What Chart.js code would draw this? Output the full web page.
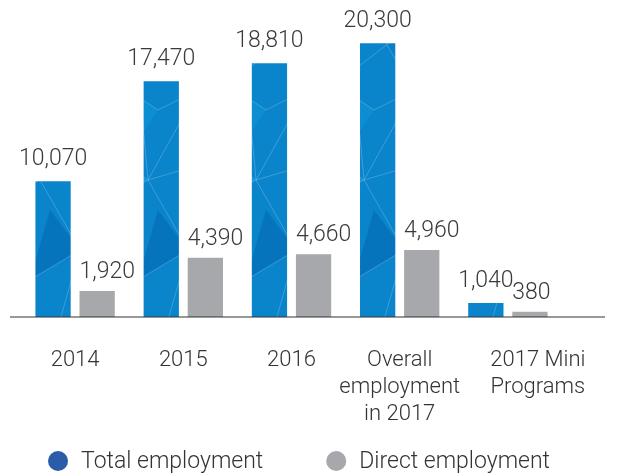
<!DOCTYPE html>
<html>
<head>
<meta charset="utf-8">
<script src="https://cdn.jsdelivr.net/npm/chart.js@4"></script>
<style>
  html, body { margin: 0; padding: 0; background: #fff; }
  #wrap { width: 619px; height: 474px; }
</style>
</head>
<body>
<div id="wrap"><canvas id="employmentChart"></canvas></div>
<script>
// data
const categories = [
  "2014",
  "2015",
  "2016",
  ["Overall", "employment", "in 2017"],
  ["2017 Mini", "Programs"],
];
const totalEmployment = [10070, 17470, 18810, 20300, 1040];
const directEmployment = [1920, 4390, 4660, 4960, 380];
const seriesNames = ["Total employment", "Direct employment"];
const legendColors = ["#2a5caa", "#a7a8ab"];

const FONT = "Roboto";
const lastLabelNudge = 30; // the last category label sits right of its bars

// faceted blue texture for the total bars
function makeTexture(ctx) {
  const c = document.createElement("canvas");
  c.width = 108;
  c.height = 320;
  const p = c.getContext("2d");
  p.fillStyle = "#0a84ca";
  p.fillRect(0, 0, c.width, c.height);
  const tris = [
    [[0, 20], [30, 70], [0, 110], "#0676bf"],
    [[10, 150], [40, 180], [0, 200], "#1498dc"],
    [[60, 40], [108, 10], [90, 90], "#0a7ec6"],
    [[50, 210], [80, 250], [30, 280], "#0674bd"],
    [[70, 120], [108, 160], [80, 180], "#1090d4"],
    [[0, 250], [20, 300], [0, 320], "#066eb8"],
    [[20, 90], [50, 110], [30, 140], "#0d8ed2"],
  ];
  tris.forEach(([a, b, d, col]) => {
    p.fillStyle = col;
    p.beginPath();
    p.moveTo(a[0], a[1]);
    p.lineTo(b[0], b[1]);
    p.lineTo(d[0], d[1]);
    p.closePath();
    p.fill();
  });
  p.strokeStyle = "rgba(190, 225, 250, 0.4)";
  p.lineWidth = 0.7;
  const lines = [
    [0, 20, 30, 70], [30, 70, 0, 110], [30, 70, 108, 10], [30, 70, 40, 180],
    [40, 180, 0, 200], [40, 180, 108, 160], [60, 40, 90, 90], [90, 90, 40, 180],
    [20, 90, 50, 110], [50, 110, 90, 90], [40, 180, 80, 250], [80, 250, 30, 280],
    [30, 280, 20, 300], [80, 250, 108, 230], [80, 250, 60, 320], [0, 250, 30, 280],
    [10, 0, 30, 70], [70, 0, 60, 40],
  ];
  lines.forEach(([x1, y1, x2, y2]) => {
    p.beginPath();
    p.moveTo(x1, y1);
    p.lineTo(x2, y2);
    p.stroke();
  });
  return ctx.createPattern(c, "repeat");
}

// value labels above bars: total centred, direct starts at the bar's left edge
const valueLabels = {
  id: "valueLabels",
  afterDatasetsDraw(chart) {
    const ctx = chart.ctx;
    ctx.save();
    ctx.font = "300 23px " + FONT;
    ctx.fillStyle = "#3a3a3a";
    ctx.textBaseline = "alphabetic";
    chart.data.datasets.forEach((ds, i) => {
      chart.getDatasetMeta(i).data.forEach((bar, j) => {
        const txt = ds.data[j].toLocaleString("en-US");
        if (i === 0) {
          ctx.textAlign = "center";
          ctx.fillText(txt, bar.x, bar.y - 16);
        } else {
          ctx.textAlign = "left";
          ctx.fillText(txt, bar.x - bar.width / 2, bar.y - 13);
        }
      });
    });
    ctx.restore();
  },
};

// long baseline + category labels under the bars
const categoryAxis = {
  id: "categoryAxis",
  afterDatasetsDraw(chart) {
    const ctx = chart.ctx;
    const xs = chart.scales.x;
    const y = chart.scales.y.getPixelForValue(0);
    ctx.save();
    ctx.strokeStyle = "#333";
    ctx.lineWidth = 1.2;
    ctx.beginPath();
    ctx.moveTo(10, y);
    ctx.lineTo(605, y);
    ctx.stroke();

    ctx.font = "300 22px " + FONT;
    ctx.fillStyle = "#333";
    ctx.textAlign = "center";
    ctx.textBaseline = "alphabetic";
    chart.data.labels.forEach((lab, i) => {
      const lines = Array.isArray(lab) ? lab : [lab];
      let x = xs.getPixelForValue(i);
      if (i === chart.data.labels.length - 1) x += lastLabelNudge;
      lines.forEach((t, k) => ctx.fillText(t, x, y + 49 + k * 27));
    });
    ctx.restore();
  },
};

// legend row at the bottom: dot + name, two items
const bottomLegend = {
  id: "bottomLegend",
  afterDraw(chart) {
    const ctx = chart.ctx;
    ctx.save();
    ctx.font = "300 23px " + FONT;
    ctx.textBaseline = "middle";
    ctx.textAlign = "left";
    const y = 461;
    const r = 10;
    const gapDotText = 13;
    const gapItems = 63;
    const widths = chart.data.datasets.map((ds) => 2 * r + gapDotText + ctx.measureText(ds.label).width);
    const total = widths.reduce((a, b) => a + b, 0) + gapItems;
    let x = 299 - total / 2;
    chart.data.datasets.forEach((ds, i) => {
      ctx.fillStyle = legendColors[i];
      ctx.beginPath();
      ctx.arc(x + r, y, r, 0, Math.PI * 2);
      ctx.fill();
      ctx.fillStyle = "#333";
      ctx.fillText(ds.label, x + 2 * r + gapDotText, y + 1);
      x += widths[i] + gapItems;
    });
    ctx.restore();
  },
};

const ctx = document.getElementById("employmentChart").getContext("2d");
const texture = makeTexture(ctx);

const employmentChart = new Chart(ctx, {
  type: "bar",
  data: {
    labels: categories,
    datasets: [
      {
        label: seriesNames[0],
        data: totalEmployment,
        backgroundColor: texture,
        borderWidth: 0,
      },
      {
        label: seriesNames[1],
        data: directEmployment,
        backgroundColor: "#a7a8ab",
        borderWidth: 0,
      },
    ],
  },
  options: {
    responsive: true,
    maintainAspectRatio: false,
    animation: false,
    layout: { padding: { top: 0, left: 21, right: 57, bottom: 157 } },
    datasets: {
      bar: { categoryPercentage: 0.815, barPercentage: 0.8 },
    },
    scales: {
      x: {
        display: false,
      },
      y: {
        display: false,
        min: 0,
        max: 23500,
      },
    },
    plugins: {
      tooltip: { enabled: false },
      legend: { display: false },
    },
  },
  plugins: [valueLabels, categoryAxis, bottomLegend],
});
</script>
</body>
</html>
